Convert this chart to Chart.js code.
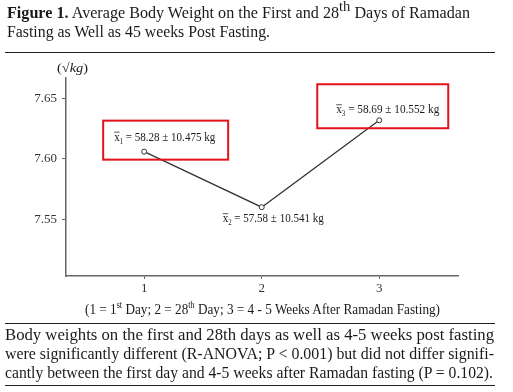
<!DOCTYPE html>
<html>
<head>
<meta charset="utf-8">
<script src="https://cdn.jsdelivr.net/npm/chart.js@4.4.1/dist/chart.umd.min.js"></script>
<style>
html, body { margin: 0; padding: 0; background: #fff; }
#page { position: relative; width: 513px; height: 392px; overflow: hidden; font-family: "Liberation Serif", serif; color: #1a1a1a; }
#page canvas { position: absolute; left: 0; top: 0; }
.ln { position: absolute; white-space: nowrap; transform-origin: 0 0; line-height: 1; }
.rule { position: absolute; left: 5px; width: 490px; height: 1px; background: #222; }
.sup { font-size: 62%; position: relative; top: -0.55em; }
.bigsup { font-size: 90%; position: relative; top: -0.45em; }
</style>
</head>
<body>
<div id="page">
  <canvas id="weightChart" width="513" height="392"></canvas>

  <div class="ln" data-w="463" style="left:7px; top:4.5px; font-size:16.5px;"><b>Figure 1.</b> Average Body Weight on the First and 28<span class="bigsup">th</span> Days of Ramadan</div>
  <div class="ln" data-w="263" style="left:7px; top:23.5px; font-size:16.5px;">Fasting as Well as 45 weeks Post Fasting.</div>
  <div class="rule" style="top:52px;"></div>

  <div class="ln" data-w="31" style="left:57px; top:61px; font-size:13px;">(√<i>kg</i>)</div>

  <div class="ln" data-w="355" style="left:85px; top:301.5px; font-size:15px;">(1 = 1<span class="sup">st</span> Day; 2 = 28<span class="sup">th</span> Day; 3 = 4 - 5 Weeks After Ramadan Fasting)</div>

  <div class="rule" style="top:323px;"></div>
  <div class="ln" data-w="489" style="left:5px; top:327px; font-size:16px;">Body weights on the first and 28th days as well as 4-5 weeks post fasting</div>
  <div class="ln" data-w="489" style="left:5px; top:346px; font-size:16px;">were significantly different (R-ANOVA; P &lt; 0.001) but did not differ signifi-</div>
  <div class="ln" data-w="488" style="left:5px; top:365px; font-size:16px;">cantly between the first day and 4-5 weeks after Ramadan fasting (P = 0.102).</div>
  <div class="rule" style="top:385px;"></div>
</div>

<script>
// Data (y axis is sqrt(kg))
const sessions = [1, 2, 3];
const weightRoot = [7.606, 7.560, 7.632];
const meanText = ['58.28 ± 10.475 kg', '57.58 ± 10.541 kg', '58.69 ± 10.552 kg'];
const boxed = [true, false, true];
const xTicks = [1, 2, 3];
const yTicks = [7.55, 7.60, 7.65];

// label placement relative to each point (pixels)
const labelPos = [
    { dx: -30, dy: -11, w: 101, box: [-41, -31, 84, 8] },
    { dx: -39, dy: 15, w: 101 },
    { dx: -43, dy: -7, w: 103, box: [-62, -36, 69, 8] }
];

// fit html text lines to the widths seen in the figure
document.querySelectorAll('.ln[data-w]').forEach(el => {
    const target = parseFloat(el.dataset.w);
    const actual = el.getBoundingClientRect().width;
    if (actual > 0) el.style.transform = `scaleX(${target / actual})`;
});

function drawMean(ctx, x, y, idx, text, targetW) {
    const big = '13px "Liberation Serif", serif';
    const small = '8px "Liberation Serif", serif';
    const rest = ' = ' + text;
    ctx.font = big;
    const xw = ctx.measureText('x').width;
    const restW = ctx.measureText(rest).width;
    ctx.font = small;
    const sw = ctx.measureText(String(idx)).width;
    const natural = xw + sw + restW;

    ctx.save();
    ctx.translate(x, y);
    ctx.scale(targetW / natural, 1);
    ctx.fillStyle = '#1a1a1a';
    ctx.strokeStyle = '#1a1a1a';
    ctx.textBaseline = 'alphabetic';
    ctx.textAlign = 'left';
    ctx.font = big;
    ctx.fillText('x', 0, 0);
    ctx.lineWidth = 0.8;
    ctx.beginPath();
    ctx.moveTo(0, -8.5);
    ctx.lineTo(xw, -8.5);
    ctx.stroke();
    ctx.font = small;
    ctx.fillText(String(idx), xw, 3);
    ctx.font = big;
    ctx.fillText(rest, xw + sw, 0);
    ctx.restore();
}

const annotations = {
    id: 'annotations',
    afterDatasetsDraw(chart) {
        const ctx = chart.ctx;
        const meta = chart.getDatasetMeta(0);
        meta.data.forEach((pt, i) => {
            const p = labelPos[i];
            if (boxed[i]) {
                const b = p.box;
                ctx.save();
                ctx.strokeStyle = '#e3121b';
                ctx.lineWidth = 2;
                ctx.strokeRect(pt.x + b[0], pt.y + b[1], b[2] - b[0], b[3] - b[1]);
                ctx.restore();
            }
            drawMean(ctx, pt.x + p.dx, pt.y + p.dy, i + 1, meanText[i], p.w);
        });
    }
};

new Chart(document.getElementById('weightChart'), {
    type: 'line',
    data: {
        datasets: [{
            data: sessions.map((s, i) => ({ x: s, y: weightRoot[i] })),
            borderColor: '#333',
            borderWidth: 1.3,
            pointRadius: 2.5,
            pointBorderWidth: 1,
            pointBackgroundColor: '#fff',
            pointBorderColor: '#333',
            tension: 0,
            fill: false
        }]
    },
    options: {
        responsive: false,
        animation: false,
        devicePixelRatio: 1,
        layout: { padding: { left: 0, top: 78, right: 55, bottom: 76 } },
        plugins: {
            legend: { display: false },
            tooltip: { enabled: false }
        },
        scales: {
            x: {
                type: 'linear',
                min: 0.335,
                max: 3.67,
                afterBuildTicks: scale => { scale.ticks = xTicks.map(v => ({ value: v })); },
                afterFit: scale => { scale.height = 40; },
                grid: { display: true, drawOnChartArea: false, drawTicks: true, tickLength: 3, color: '#666' },
                border: { display: true, color: '#666', width: 1.5 },
                ticks: {
                    padding: 2,
                    color: '#333',
                    font: { family: '"Liberation Serif", serif', size: 13 }
                }
            },
            y: {
                min: 7.503,
                max: 7.667,
                afterBuildTicks: scale => { scale.ticks = yTicks.map(v => ({ value: v })); },
                afterFit: scale => { scale.width = 66; },
                grid: { display: true, drawOnChartArea: false, drawTicks: true, tickLength: 4, color: '#666' },
                border: { display: true, color: '#666', width: 1.5 },
                ticks: {
                    padding: 5,
                    color: '#333',
                    font: { family: '"Liberation Serif", serif', size: 13 },
                    callback: v => v.toFixed(2)
                }
            }
        }
    },
    plugins: [annotations]
});
</script>
</body>
</html>
